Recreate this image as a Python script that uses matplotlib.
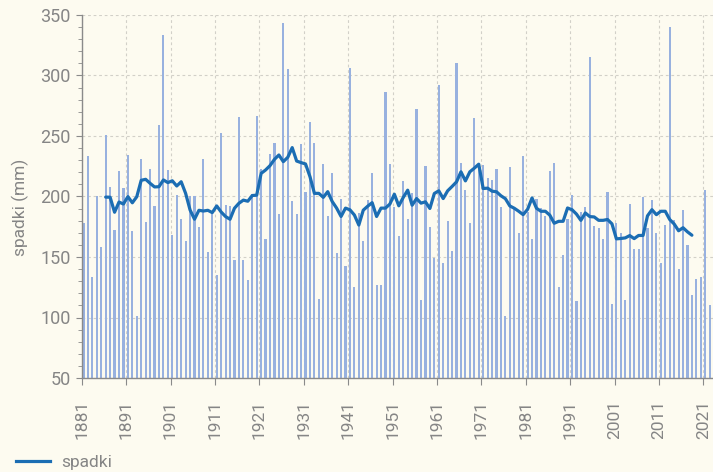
import matplotlib
matplotlib.use("Agg")
import matplotlib.pyplot as plt
from matplotlib.ticker import MultipleLocator
from matplotlib.lines import Line2D

# ---- data ----
years = list(range(1881, 2023))
rain = [
    178.5, 233.6, 133.6, 200.0, 157.9, 251.2, 207.7, 172.2, 220.9, 206.9,   # 1881-1890
    234.4, 171.1, 101.1, 231.4, 178.8, 222.6, 192.0, 259.0, 333.3, 221.8,   # 1891-1900
    168.3, 201.1, 181.3, 163.6, 200.0, 200.0, 174.7, 231.4, 154.0, 186.0,   # 1901-1910
    135.3, 252.1, 192.8, 192.0, 147.4, 265.3, 147.4, 131.4, 201.9, 266.4,   # 1911-1920
    222.6, 164.7, 235.0, 244.6, 185.4, 343.3, 305.0, 196.1, 185.4, 243.8,   # 1921-1930
    203.9, 261.2, 244.6, 115.2, 226.7, 183.5, 219.3, 153.7, 198.3, 142.7,   # 1931-1940
    306.6, 124.8, 186.2, 163.4, 197.2, 219.3, 126.7, 126.7, 286.0, 226.7,   # 1941-1950
    191.7, 167.5, 212.4, 181.3, 202.8, 272.2, 114.6, 224.8, 174.7, 148.8,   # 1951-1960
    292.0, 145.0, 179.6, 155.1, 310.7, 227.5, 205.0, 178.5, 264.5, 222.0,   # 1961-1970
    225.9, 215.2, 213.5, 222.9, 191.7, 101.4, 224.0, 189.5, 170.2, 233.6,   # 1971-1980
    186.8, 164.7, 197.8, 190.1, 183.5, 221.2, 227.5, 124.8, 151.5, 181.3,   # 1981-1990
    201.1, 113.8, 187.3, 191.7, 315.4, 175.8, 173.8, 164.7, 203.9, 111.0,   # 1991-2000
    178.5, 170.2, 114.3, 193.7, 157.0, 157.0, 199.2, 173.6, 197.2, 170.2,   # 2001-2010
    144.9, 176.6, 339.7, 180.4, 139.9, 189.0, 159.8, 118.5, 131.7, 133.6,   # 2011-2020
    205.2, 110.2,                                                           # 2021-2022
]

trend_years = list(range(1886, 2019))
trend = [
    199.5, 199.4, 187.0, 195.4, 193.8,                                       # 1886-1890
    199.9, 194.8, 199.8, 213.4, 214.2, 210.9, 207.9, 208.1, 213.7, 211.5,   # 1891-1900
    213.0, 208.7, 212.2, 202.6, 188.9, 181.2, 188.6, 188.0, 188.6, 186.7,   # 1901-1910
    192.2, 187.2, 183.4, 181.2, 190.3, 194.4, 197.0, 196.1, 200.8, 201.1,   # 1911-1920
    219.1, 221.9, 225.5, 230.7, 234.3, 228.8, 232.4, 240.4, 229.3, 228.0,   # 1921-1930
    226.9, 216.4, 202.6, 202.6, 199.3, 204.0, 195.9, 190.4, 183.5, 190.4,   # 1931-1940
    189.0, 184.7, 176.4, 188.7, 192.0, 194.9, 183.5, 190.4, 190.4, 193.8,   # 1941-1950
    201.9, 192.3, 199.2, 205.2, 192.8, 198.3, 194.5, 195.6, 190.1, 202.5,   # 1951-1960
    204.7, 198.3, 204.7, 208.3, 212.1, 220.4, 212.9, 220.4, 223.4, 226.7,   # 1961-1970
    206.6, 206.9, 204.4, 203.9, 200.6, 198.2, 192.2, 190.3, 187.8, 185.0,   # 1971-1980
    189.4, 198.8, 190.3, 187.8, 187.8, 184.6, 177.9, 179.5, 179.5, 190.5,   # 1981-1990
    189.1, 185.5, 180.3, 186.4, 183.4, 183.1, 180.3, 180.3, 181.0, 177.4,   # 1991-2000
    165.0, 165.3, 165.8, 167.7, 165.2, 167.8, 167.8, 184.0, 189.1, 185.0,   # 2001-2010
    187.8, 187.8, 181.0, 177.3, 171.7, 174.2, 170.8, 168.0,                 # 2011-2018
]

tick_years = list(range(1881, 2022, 10))
series_label = "spadki"
y_label = "spadki (mm)"

# ---- style ----
bg = "#fdfbf0"
bar_color = "#98b1df"
line_color = "#1b6db3"
grid_color = "#d2d0c8"
text_color = "#858585"
spine_color = "#8a8a8a"
plt.rcParams["font.family"] = ["Roboto", "DejaVu Sans"]

W, H = 713, 472
fig = plt.figure(figsize=(W / 100, H / 100), dpi=100, facecolor=bg)
left_px, right_px, top_px, bottom_px = 81.7, 713, 15, 378
ax = fig.add_axes([left_px / W, 1 - bottom_px / H,
                   (right_px - left_px) / W, (bottom_px - top_px) / H])
ax.set_facecolor(bg)

ax.bar(years, rain, width=0.48, color=bar_color, zorder=2, linewidth=0)
ax.plot(trend_years, trend, color=line_color, linewidth=2.3, zorder=3,
        solid_joinstyle="round", solid_capstyle="round")

ax.set_xlim(1880.6, 2022.75)
ax.set_ylim(50, 350)

ax.set_xticks([y - 0.4 for y in tick_years])
ax.set_xticklabels([str(y) for y in tick_years], rotation=90,
                   fontsize=12.5, color=text_color)
ax.yaxis.set_major_locator(MultipleLocator(50))
ax.yaxis.set_minor_locator(MultipleLocator(10))
ax.tick_params(axis="y", which="major", labelsize=13, labelcolor=text_color,
               color=spine_color, length=4, width=0.8, pad=4)
ax.tick_params(axis="y", which="minor", color=spine_color, length=3, width=0.6)
ax.tick_params(axis="x", which="major", color=spine_color, length=5, width=0.8,
               pad=11)

ax.grid(True, which="major", axis="both", color=grid_color, linestyle=(0, (2.5, 2.5)),
        linewidth=0.8, zorder=0)
ax.set_axisbelow(True)
for s in ["top", "right"]:
    ax.spines[s].set_visible(False)
for s in ["left", "bottom"]:
    ax.spines[s].set_color(spine_color)
    ax.spines[s].set_linewidth(1.0)
    ax.spines[s].set_zorder(4)

fig.text(20 / W, 1 - 207 / H, y_label, rotation=90, ha="center", va="center",
         fontsize=12.5, color=text_color)

handle = Line2D([], [], color=line_color, linewidth=2.3)
fig.legend([handle], [series_label], loc="lower left", bbox_to_anchor=(0.0, -0.028),
           frameon=False, handlelength=2.0, handletextpad=0.6,
           labelcolor=text_color, prop={"size": 12.5})

fig.savefig("out.png", dpi=100, facecolor=bg)
